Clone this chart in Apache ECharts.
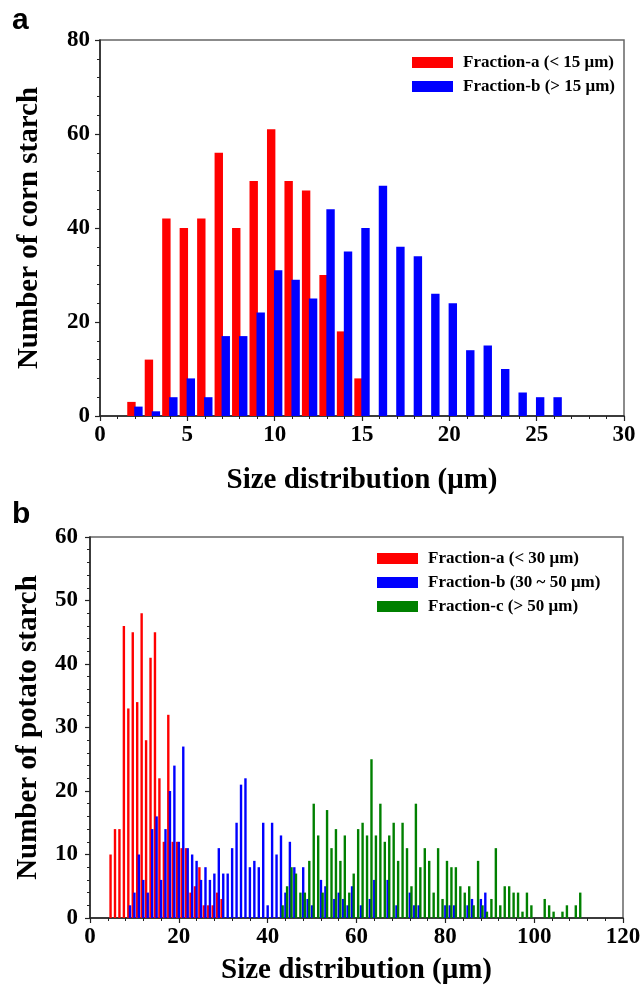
<!DOCTYPE html>
<html><head><meta charset="utf-8">
<script src="https://cdn.jsdelivr.net/npm/echarts@6/dist/echarts.min.js"></script>
<style>html,body{margin:0;padding:0;background:#fff}#c{width:644px;height:988px}</style>
</head><body><div id="c"></div>
<script>
// ---- Panel a: corn starch (bins in µm, counts) ----
const cornStartA = 2;
const cornA = [3,12,42,40,42,56,40,50,61,50,48,30,18,8];
const cornStartB = 2;
const cornB = [2,1,4,8,4,17,17,22,31,29,25,44,35,40,49,36,34,26,24,14,15,10,5,4,4];
const cornNames = ['Fraction-a (< 15 \u03bcm)', 'Fraction-b (> 15 \u03bcm)'];

// ---- Panel b: potato starch ----
const potatoStartA = 5;
const potatoA = [10,14,14,46,33,45,34,48,28,41,45,22,12,32,12,12,11,11,4,5,8,2,2,2,4,3];
const potatoStartB = 9;
const potatoB = [2,4,10,6,4,14,16,6,14,20, 24,12,27,11,10,9,6,8,6,7, 11,7,7,11,15,21,22,8,9,8,
  15,2,15,10,13,4,12,8,0,8, 3,2,0,6,5,0,3,4,3,2, 5,0,2,0,3,6,0,0,6,0, 2,0,0,4,2,2,0,0,0,0,
  0,2,2,2,0,0,2,3,0,3, 4];
const potatoStartC = 43;
const potatoC = [2,5,8,7,4,4,9,18,13,4, 17,11,14,9,13,4,7,14,15,13, 25,13,18,12,13,15,9,15,11,5,
  18,8,11,9,4,11,3,9,8,8, 5,4,5,2,9,2,1,3,11,2, 5,5,4,4,1,4,2,0,0,3, 2,1,0,1,2,0,2,4];
const potatoNames = ['Fraction-a (< 30 \u03bcm)', 'Fraction-b (30 ~ 50 \u03bcm)', 'Fraction-c (> 50 \u03bcm)'];

// axis ranges
const cornX = {min:0, max:30, interval:5};
const cornY = {min:0, max:80, interval:20};
const potX = {min:0, max:120, interval:20};
const potY = {min:0, max:60, interval:10};

const RED = '#ff0000', BLUE = '#0000ff', GREEN = '#008000';
const serif = 'Liberation Serif, Times New Roman, serif';

function pairs(start, arr){ return arr.map((v,i)=>[start+i, v]); }

function axisCommon(r, labelMargin, name, nameGap){
  return {
    type:'value', min:r.min, max:r.max, interval:r.interval,
    axisLine:{show:true, onZero:false, lineStyle:{color:'#222', width:1.5}},
    axisTick:{show:true, inside:false, length:5, lineStyle:{color:'#222', width:1.2}},
    minorTick:{show:true, splitNumber:5, length:3, lineStyle:{color:'#222', width:1}},
    splitLine:{show:false},
    axisLabel:{fontFamily:serif, fontWeight:'bold', fontSize:23, color:'#000', margin:labelMargin},
    name:name, nameLocation:'middle', nameGap:nameGap,
    nameTextStyle:{fontFamily:serif, fontWeight:'bold', fontSize:29, color:'#000'}
  };
}

const legendText = {fontFamily:serif, fontWeight:'bold', fontSize:17, color:'#000', lineHeight:17, padding:[0,0,0,5]};

const option = {
  animation:false,
  backgroundColor:'#fff',
  grid:[
    {left:100, top:40, width:524, height:376, show:true, borderColor:'#666', borderWidth:1.5, containLabel:false},
    {left:90, top:537, width:533, height:381, show:true, borderColor:'#666', borderWidth:1.5, containLabel:false}
  ],
  xAxis:[
    Object.assign({gridIndex:0}, axisCommon(cornX, 8, 'Size distribution (\u03bcm)', 50)),
    Object.assign({gridIndex:1}, axisCommon(potX, 8, 'Size distribution (\u03bcm)', 38))
  ],
  yAxis:[
    Object.assign({gridIndex:0}, axisCommon(cornY, 10, 'Number of corn starch', 56)),
    Object.assign({gridIndex:1}, axisCommon(potY, 12, 'Number of potato starch', 47))
  ],
  legend:[
    {orient:'vertical', left:412, top:54, padding:0, itemWidth:41, itemHeight:11, itemGap:7,
     icon:'rect', selectedMode:false, data:cornNames, textStyle:legendText},
    {orient:'vertical', left:377, top:550, padding:0, itemWidth:41, itemHeight:11, itemGap:7,
     icon:'rect', selectedMode:false, data:potatoNames, textStyle:legendText}
  ],
  graphic:[
    {type:'text', left:12, top:6, style:{text:'a', font:'bold 30px "Liberation Sans", Arial, sans-serif', fill:'#000'}},
    {type:'text', left:12, top:500, style:{text:'b', font:'bold 30px "Liberation Sans", Arial, sans-serif', fill:'#000'}}
  ],
  series:[
    {name:cornNames[0], type:'bar', xAxisIndex:0, yAxisIndex:0, data:pairs(cornStartA, cornA),
     barWidth:8.4, barGap:'-17%', itemStyle:{color:RED}},
    {name:cornNames[1], type:'bar', xAxisIndex:0, yAxisIndex:0, data:pairs(cornStartB, cornB),
     barWidth:8.4, barGap:'-17%', itemStyle:{color:BLUE}},
    {name:potatoNames[0], type:'bar', xAxisIndex:1, yAxisIndex:1, data:pairs(potatoStartA, potatoA),
     barWidth:2.4, barGap:'-31%', itemStyle:{color:RED}},
    {name:potatoNames[1], type:'bar', xAxisIndex:1, yAxisIndex:1, data:pairs(potatoStartB, potatoB),
     barWidth:2.4, barGap:'-31%', itemStyle:{color:BLUE}},
    {name:potatoNames[2], type:'bar', xAxisIndex:1, yAxisIndex:1, data:pairs(potatoStartC, potatoC),
     barWidth:2.4, barGap:'-31%', itemStyle:{color:GREEN}}
  ]
};

const chart = echarts.init(document.getElementById('c'), null, {renderer:'canvas'});
chart.setOption(option);
</script>
</body></html>
